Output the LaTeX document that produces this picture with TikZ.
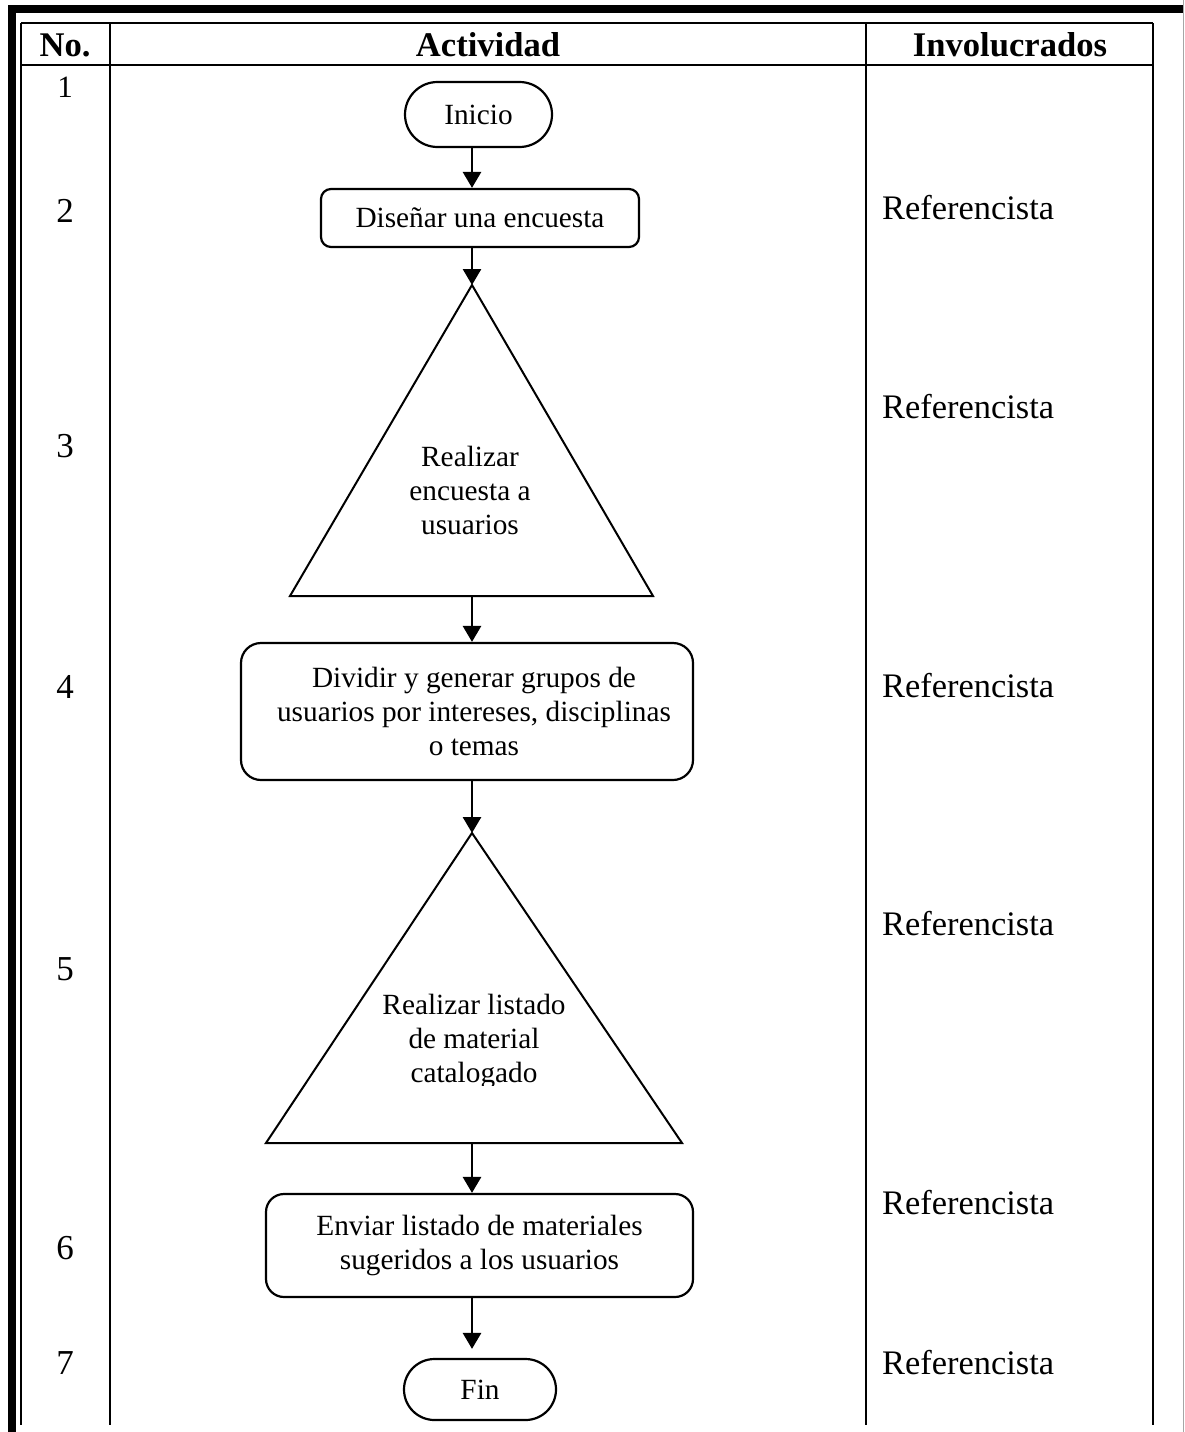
\documentclass[tikz,border=0pt]{standalone}
\usepackage{fontspec}
\setmainfont{Liberation Serif}
\usetikzlibrary{arrows.meta}
\newcommand\nodefnt{\fontsize{29.3}{34}\selectfont}
\newcommand\hdrfnt{\fontsize{34.6}{40}\selectfont\bfseries}
\newcommand\invfnt{\fontsize{34.4}{40}\selectfont}
\newcommand\numfnt{\fontsize{35}{40}\selectfont}
\begin{document}
\begin{tikzpicture}[x=1pt,y=-1pt,
  tbl/.style={line width=2.4pt},
  shp/.style={draw, line width=2.2pt, inner sep=0pt, align=center, font=\nodefnt},
  tri/.style={draw, line width=2pt, line join=miter},
  txt/.style={inner sep=0pt, align=center, font=\nodefnt},
  arr/.style={line width=2.8pt, -{Triangle[length=16pt,width=18pt]}},
  hdr/.style={font=\hdrfnt, anchor=base, inner sep=0pt},
  inv/.style={font=\invfnt, anchor=base west, inner sep=0pt},
  num/.style={font=\numfnt, anchor=base, inner sep=0pt}]
\useasboundingbox (0,0) rectangle (1185,1432);
\fill[white] (0,0) rectangle (1185,1432);
% outer frame
\fill[black] (8,5) rectangle (1183,13);
\fill[black] (8,5) rectangle (16,1432);
\draw[black!35, line width=1pt] (1183.5,0) -- (1183.5,1432);
% table
\draw[tbl] (21,23) -- (1153,23);
\draw[tbl] (21,65) -- (1153,65);
\draw[tbl] (21,23) -- (21,1425);
\draw[tbl] (110,23) -- (110,1425);
\draw[tbl] (866,23) -- (866,1425);
\draw[tbl] (1153,23) -- (1153,1425);
% header
\node[hdr] (hno) at (65,56) {No.};
\node[hdr] (hact) at (488,56) {Actividad};
\node[hdr] (hinv) at (1010,56) {Involucrados};
% numbers
\node[num, font=\fontsize{31}{36}\selectfont] (n1) at (65,97) {1};
\node[num] (n2) at (65,222) {2};
\node[num] (n3) at (65,457) {3};
\node[num] (n4) at (65,698) {4};
\node[num] (n5) at (65,980) {5};
\node[num] (n6) at (65,1259) {6};
\node[num] (n7) at (65,1374) {7};
% involucrados
\node[inv] (r2) at (882,219) {Referencista};
\node[inv] (r3) at (882,418) {Referencista};
\node[inv] (r4) at (882,697) {Referencista};
\node[inv] (r5) at (882,935) {Referencista};
\node[inv] (r6) at (882,1214) {Referencista};
\node[inv] (r7) at (882,1374) {Referencista};
% flow column
\coordinate (ax) at (472,0);
\node[shp, minimum width=147pt, minimum height=65pt, rounded corners=32.5pt] (inicio) at (478.5,114.5) {Inicio};
\node[shp, minimum width=318pt, minimum height=58pt, rounded corners=10pt] (disenar) at (480,218) {Diseñar una encuesta};
% triangle 1
\coordinate (t1top) at (472,285);
\coordinate (t1bot) at (472,596);
\draw[tri] (t1top) -- (653,596) -- (290,596) -- cycle;
\node[txt] (t1txt) at (470,490.5) {Realizar\\encuesta a\\usuarios};
% box 4
\node[shp, minimum width=452pt, minimum height=137pt, rounded corners=20pt] (dividir) at (467,711.5) {};
\node[txt] (t4txt) at (474,711.5) {Dividir y generar grupos de\\usuarios por intereses, disciplinas\\o temas};
% triangle 2
\coordinate (t2top) at (472,833);
\coordinate (t2bot) at (472,1143);
\draw[tri] (t2top) -- (682,1143) -- (266,1143) -- cycle;
\begin{scope}
\clip (300,960) rectangle (650,1085);
\node[txt] (t2txt) at (474,1041.7) {Realizar listado\\de material\\catalogado};
\end{scope}
% box 6
\node[shp, minimum width=427pt, minimum height=103pt, rounded corners=18pt] (enviar) at (479.5,1245.5) {Enviar listado de materiales\\sugeridos a los usuarios};
% fin
\node[shp, minimum width=152pt, minimum height=61pt, rounded corners=30.5pt] (fin) at (480,1389.5) {Fin};
% connectors
\draw[arr] (inicio.south -| ax) -- (disenar.north -| ax);
\draw[arr] (disenar.south -| ax) -- (t1top);
\draw[arr] (t1bot) -- (dividir.north -| ax);
\draw[arr] (dividir.south -| ax) -- (t2top);
\draw[arr] (t2bot) -- (enviar.north -| ax);
\draw[arr, shorten >=9pt] (enviar.south -| ax) -- (fin.north -| ax);
\end{tikzpicture}
\end{document}
